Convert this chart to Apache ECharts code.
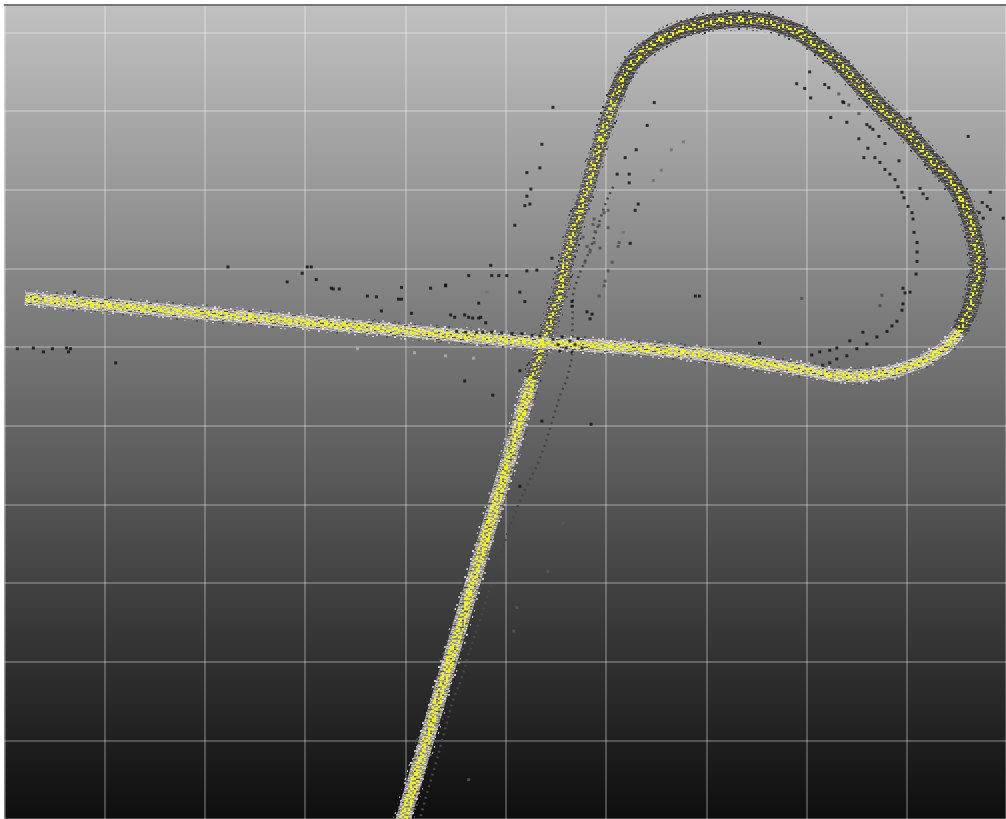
<!DOCTYPE html>
<html>
<head>
<meta charset="utf-8">
<script src="https://cdn.jsdelivr.net/npm/echarts@6/dist/echarts.min.js"></script>
<style>
  html, body { margin: 0; padding: 0; background: #ffffff; }
  #chart { width: 1006px; height: 819px; }
</style>
</head>
<body>
<div id="chart"></div>
<script>
// ---- Trajectory centreline, metres in the local frame (10 m grid cells) ----
const diagLowerPath = [[39.53,-11.12],[46.83,20.59],[52.61,45.95]];
const diagUpperPath = [[52.61,45.95],[53.71,50.52],[55.20,56.10],[56.70,64.60],[58.09,70.05],[59.49,76.40],[60.79,81.47]];
const loopPath = [[60.79,81.47],[61.58,84.01],[62.58,86.16],[63.88,87.81],[65.47,89.20],[67.67,90.47],[70.36,91.36],
  [73.35,91.68],[76.34,91.36],[79.33,89.97],[81.62,87.81],[83.62,85.65],[85.31,83.24],[87.61,80.20],[90.10,77.28],
  [92.29,74.11],[94.29,71.32],[95.58,68.78],[96.48,65.36],[96.98,62.44],[97.08,59.91],[96.78,57.37],[96.18,54.45],[95.18,51.92]];
const armPath = [[95.18,51.92],[93.79,49.89],[91.50,48.11],[88.50,46.84],[85.31,46.33],[82.52,46.46],[80.03,47.10],
  [76.54,47.73],[73.35,48.36],[69.36,49.13],[64.38,49.76],[59.39,50.14],[53.71,50.52],[29.48,53.25],[2.06,56.23]];

// Secondary (ghost) return beside the diagonal
const ghostTrail = [[60.7,70.4],[60.0,68.5],[59.2,65.5],[58.4,62.4],[57.4,59.5],[56.7,57.0],[56.6,48.7],[56.1,46.0],
  [55.4,43.8],[54.7,40.9],[53.9,37.5],[53.1,34.9],[52.1,32.4],[51.1,29.5],[50.2,26.5],[49.4,23.1],[48.7,20.6],
  [47.9,17.2],[47.1,14.2],[46.4,11.3],[45.6,7.9],[44.7,5.0],[43.9,1.2],[43.1,-2.6],[42.1,-6.9],[41.2,-11.1]];

// Isolated returns
const blackPoints = [
  [54.7,80.5],[64.8,81.1],[64.1,78.2],[53.6,75.8],[63.0,75.1],[61.9,74.1],[53.4,72.8],[52.1,72.2],[61.1,72.0],[62.3,72.0],
  [62.3,70.9],[52.5,70.1],[52.1,69.2],[63.2,68.2],[52.4,68.2],[51.9,68.0],[62.9,67.4],[50.9,65.5],[62.4,63.2],[54.6,61.3],
  [48.5,60.4],[46.3,59.1],[48.6,59.1],[49.3,59.1],[50.1,59.1],[52.1,59.7],[53.1,59.8],[44.0,57.8],[51.4,57.0],[68.9,56.5],
  [69.3,56.5],[51.9,55.8],[56.6,55.8],[56.6,55.2],[58.1,54.5],[58.6,54.2],[58.4,53.6],
  [22.3,60.2],[28.2,58.3],[29.7,59.4],[30.2,60.2],[30.6,60.2],[31.1,58.6],[32.6,57.5],[32.8,57.4],[33.4,57.4],[36.2,56.5],
  [37.1,56.4],[37.6,54.6],[39.6,57.6],[39.3,56.1],[39.6,56.1],[40.6,54.3],[42.5,57.5],[44.0,57.9],[44.5,54.1],[44.9,53.8],
  [45.9,54.1],[46.3,53.8],[46.7,53.7],[47.3,53.7],[47.5,53.8],[47.3,55.6],[48.0,53.1],
  [45.1,52.0],[46.0,51.9],[47.1,51.9],[47.7,51.9],[48.6,51.9],[49.6,51.8],[50.6,51.7],[51.6,51.7],[52.6,51.5],[53.4,51.4],
  [45.9,45.7],[48.7,43.9],[51.4,47.0],[53.6,40.6],[58.5,40.2],[51.4,32.3],
  [1.3,49.8],[2.9,49.9],[3.9,49.4],[4.8,49.8],[6.2,49.9],[6.4,49.4],[6.6,49.8],[11.1,48.0],[7.0,57.0],
  [54.7,51.0],[55.2,50.3],[55.6,51.3],[56.0,49.9],[56.4,50.8],[56.9,50.3],[57.2,51.1],[57.6,49.9],[55.4,49.5],[56.6,49.4],
  [80.3,85.0],[79.0,83.5],[79.8,82.9],[80.4,81.7],[81.8,83.4],[82.2,83.0],[83.6,81.2],[83.7,81.1],[82.4,79.2],[84.0,78.6],
  [86.0,78.3],[86.3,78.0],[86.6,77.7],[85.2,76.5],[87.2,76.8],[87.8,75.9],[86.1,75.3],[85.7,74.1],[86.8,74.1],[87.3,73.5],
  [87.8,72.6],[88.3,72.0],[88.8,71.3],[89.1,70.4],[89.5,69.7],[89.7,69.0],[90.1,67.9],[90.5,67.1],[90.6,66.3],[90.7,64.6],
  [91.0,63.3],[91.0,62.1],[91.0,60.9],[90.9,59.3],[89.6,57.5],[90.3,57.0],[89.8,56.9],[89.6,55.5],[89.5,54.7],[89.0,53.3],
  [88.5,52.7],[88.0,52.0],[87.0,51.3],[86.0,50.4],[85.0,49.8],[84.0,48.9],[83.0,48.5],[82.3,48.0],[81.6,47.7],[80.5,49.0],
  [81.3,49.4],[75.3,50.5],[82.3,49.6],[83.0,49.9],[84.3,50.8],[85.6,51.9],[89.2,73.7],[90.3,79.1],[96.1,76.8],[91.3,70.2],
  [91.6,69.5],[92.0,68.9],[98.3,69.7],[97.5,68.4],[98.0,67.9],[98.3,67.5],[97.2,67.1],[97.6,66.4],[99.6,66.4]
];
const grayPoints = [
  [60.2,67.4],[59.8,67.1],[59.3,65.5],[60.2,65.2],[59.4,62.6],[60.6,60.8],[60.2,59.7],[59.9,58.4],[59.8,57.8],[59.3,56.5],
  [61.3,63.3],[61.2,62.8],[58.8,66.3],[58.7,65.6],[58.9,64.7],[58.8,63.3],[58.4,62.1],[57.7,64.0],[58.1,62.8],[57.9,60.8],
  [85.2,79.7],[83.2,82.2],[84.2,80.8],[79.5,56.2],[87.5,56.6],[87.3,55.3]
];
const paleGrayPoints = [[35.2,49.8],[40.9,49.3],[44.0,48.9],[46.8,48.6]];
const dimPoints = [[67.7,76.1],[66.5,75.1],[65.5,72.5],[64.7,71.2],[61.7,64.6],[48.1,57.0]];
const faintPoints = [[55.7,27.6],[54.2,21.5],[51.1,16.9],[50.8,13.9],[46.3,-5.0]];

// ---- Speckle textures for the point band (character maps) ----
const speckleLayout = [
  "aa.bb..cc.a.",
  ".c..aa.b..ee",
  "b.a..cc..a.b",
  "..ee..a.bb..",
  "a..b.w..c..a",
  ".bb..a.a..c.",
  "c..aa..e..b.",
  ".a..c.b..aa.",
  "b..e..a.c..w",
  ".cc.a..b..a.",
  "a..b..cc.e..",
  "..a.ee..a..b"
];
const yellowSparse = [
  "yy...y..y.",
  "...y.y....",
  ".y....yy..",
  ".y.y.....y",
  "....yy.y..",
  "yy.......y",
  "...y..y.y.",
  "..y...y...",
  "y...yy...y",
  ".y.......y"
];
const yellowDense = [
  "yy.yy..y.",
  "..y..yy.y",
  "y..y...yy",
  ".yy.yy...",
  "y....y.yy",
  ".yy.y..y.",
  "y...yy.y.",
  ".y.y...yy",
  "yy..y.y.."
];
const edgeLayout = [
  "g....h.....",
  "...k.....g.",
  ".h.....g...",
  "......k...h",
  "..g.h......",
  "k.......g..",
  "....g.....k",
  ".k.....h...",
  "......g..k.",
  "..h.k......",
  "........h.g"
];

// Each character becomes a cw x ch block of the repeating tile
function makeTile(rows, palette, cw, ch) {
  const h = rows.length, w = rows[0].length;
  const c = document.createElement('canvas');
  c.width = w * cw; c.height = h * ch;
  const g = c.getContext('2d');
  rows.forEach((row, y) => {
    for (let x = 0; x < w; x++) {
      const col = palette[row[x]];
      if (col) { g.fillStyle = col; g.fillRect(x * cw, y * ch, cw, ch); }
    }
  });
  return { image: c, repeat: 'repeat' };
}

const tiles = {
  lowerDiag: makeTile(speckleLayout, { '.': '#9c9c9c', a: '#c4c4c4', b: '#7c7c7c', c: '#d4d4d4', e: '#4e4e4e', w: '#eeeeee' }, 2, 1),
  upperDiag: makeTile(speckleLayout, { '.': '#6e6e6e', a: '#444444', b: '#565656', c: '#9a9a9a', e: '#b8b8b8', w: '#dadada' }, 2, 1),
  loop:      makeTile(speckleLayout, { '.': '#5a5a5a', a: '#363636', b: '#474747', c: '#7a7a7a', e: '#9a9a9a', w: '#cfcfcf' }, 2, 1),
  arms:      makeTile(speckleLayout, { '.': '#b2b2b2', a: '#e2e2e2', b: '#cacaca', c: '#868686', e: '#4a4a4a', w: '#f2f2f2' }, 2, 1),
  yellowS:   makeTile(yellowSparse, { y: '#f4f400' }, 2, 2),
  yellowD:   makeTile(yellowDense,  { y: '#f4f400' }, 2, 2),
  edgeDark:  makeTile(edgeLayout, { g: '#505050', h: '#7a7a7a', k: '#303030' }, 2, 2),
  edgeLight: makeTile(edgeLayout, { g: '#b4b4b4', h: '#d6d6d6', k: '#505050' }, 2, 2)
};

function bandLayer(path, width, color, z) {
  return {
    type: 'line', data: path, showSymbol: false, symbol: 'none', silent: true, z: z,
    emphasis: { disabled: true },
    lineStyle: { width: width, color: color, cap: 'butt', join: 'round' }
  };
}

function band(path, width, texture, edge, yellow, yWidth) {
  return [
    bandLayer(path, width + 5, edge, 3),
    bandLayer(path, width, texture, 4),
    bandLayer(path, yWidth, yellow, 5)
  ];
}

function points(data, color, size, z) {
  return {
    type: 'scatter', data: data, symbol: 'rect', symbolSize: size, silent: true, z: z,
    emphasis: { disabled: true },
    itemStyle: { color: color }
  };
}

const gridLine = { show: true, lineStyle: { color: 'rgba(255,255,255,0.33)', width: 1.5 } };

const chart = echarts.init(document.getElementById('chart'), null, { renderer: 'canvas' });
chart.setOption({
  animation: false,
  backgroundColor: '#ffffff',
  grid: {
    left: 4.3, top: 4.3, width: 1001.7, height: 816.85,
    show: true, borderWidth: 0,
    backgroundColor: new echarts.graphic.LinearGradient(0, 0, 0, 1, [
      { offset: 0, color: '#c1c1c1' },
      { offset: 1, color: '#0e0e0e' }
    ])
  },
  xAxis: {
    type: 'value', min: 0, max: 99.87, interval: 10, position: 'top',
    axisLine: { show: true, onZero: false, lineStyle: { color: '#555555', width: 1.5 } },
    axisTick: { show: false }, axisLabel: { show: false },
    splitLine: gridLine
  },
  yAxis: {
    type: 'value', min: -10, max: 93.6, interval: 10,
    axisLine: { show: false }, axisTick: { show: false }, axisLabel: { show: false },
    splitLine: gridLine
  },
  series: [
    {
      type: 'line', data: ghostTrail, showSymbol: false, symbol: 'none', silent: true, z: 2,
      emphasis: { disabled: true },
      lineStyle: { width: 2.5, color: '#464646', type: [2, 4] }
    },
    points(grayPoints, '#4c4c4c', 3, 2),
    points(dimPoints, '#6e6e6e', 3, 2),
    points(faintPoints, '#5a5a5a', 3, 2),
    ...band(diagLowerPath, 15, tiles.lowerDiag, tiles.edgeLight, tiles.yellowD, 9),
    ...band(diagUpperPath, 14, tiles.upperDiag, tiles.edgeDark, tiles.yellowS, 7),
    ...band(loopPath, 16, tiles.loop, tiles.edgeDark, tiles.yellowS, 7),
    ...band(armPath, 13, tiles.arms, tiles.edgeLight, tiles.yellowD, 7),
    points(paleGrayPoints, '#b4b4b4', 3, 6),
    points(blackPoints, '#0e0e0e', 3, 6)
  ]
});
</script>
</body>
</html>
